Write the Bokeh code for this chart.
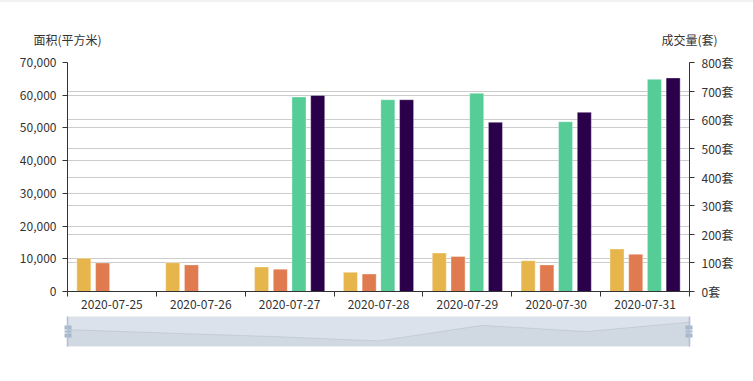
import numpy as np
from bokeh.plotting import figure
from bokeh.models import (Range1d, LinearAxis, FixedTicker, NumeralTickFormatter,
                          PrintfTickFormatter, Grid, BoxAnnotation, ColumnDataSource)
from bokeh.transform import dodge
from bokeh.layouts import column
from bokeh.embed import file_html
from bokeh.resources import INLINE

# ---------------- data ----------------
dates = ["2020-07-25", "2020-07-26", "2020-07-27", "2020-07-28",
         "2020-07-29", "2020-07-30", "2020-07-31"]
esf_area = [10150, 8800, 7490, 5870, 11770, 9410, 12990]      # 面积, left axis (yellow)
esf_count = [100, 93, 78, 61, 122, 93, 130]                   # 成交量, right axis (orange)
xf_area = [None, None, 59450, 58630, 60580, 51900, 64860]     # 面积, left axis (green)
xf_count = [None, None, 685, 670, 591, 626, 746]              # 成交量, right axis (purple)

left_ticks = [0, 10000, 20000, 30000, 40000, 50000, 60000, 70000]
right_ticks = [0, 100, 200, 300, 400, 500, 600, 700, 800]
left_name = "面积(平方米)"
right_name = "成交量(套)"

colors = ["#e6b64c", "#e07b4f", "#56cd97", "#2a004a"]
FONT = "Noto Sans CJK SC"
TXT = "#333333"

W = 753
FL, FR = 67, 64            # frame margins (left/right), shared by both rows
n = len(dates)
centers = [i + 0.5 for i in range(n)]
src = ColumnDataSource(dict(
    xc=centers,
    esf_area=np.array(esf_area, dtype=float),
    esf_count=np.array(esf_count, dtype=float),
    xf_area=np.array(xf_area, dtype=float),
    xf_count=np.array(xf_count, dtype=float),
))

# ---------------- main chart ----------------
p = figure(width=W, height=314, x_range=Range1d(0, n),
           y_range=Range1d(left_ticks[0], left_ticks[-1]),
           output_backend="svg", toolbar_location=None,
           x_axis_type=None, y_axis_type=None,
           min_border_left=FL, min_border_right=FR,
           min_border_top=60, min_border_bottom=25)
p.extra_y_ranges = {"right": Range1d(right_ticks[0], right_ticks[-1])}
p.outline_line_color = None
p.background_fill_color = "white"
p.border_fill_color = "white"

p.add_layout(Grid(dimension=1, ticker=FixedTicker(ticks=left_ticks),
                  grid_line_color="#cccccc", grid_line_width=1))
p.add_layout(Grid(dimension=1, ticker=FixedTicker(ticks=right_ticks),
                  y_range_name="right", grid_line_color="#cccccc", grid_line_width=1))

# axis names, shown as labels of an invisible top axis at both ends of the frame
names = LinearAxis(ticker=FixedTicker(ticks=[0, n]),
                   major_label_overrides={0: left_name, n: right_name})
names.axis_line_color = None
names.major_tick_line_color = None
names.minor_tick_line_color = None
names.major_tick_out = 0
names.major_tick_in = 0
names.major_label_standoff = 15
names.major_label_text_font = FONT
names.major_label_text_font_size = "12px"
names.major_label_text_color = TXT
p.add_layout(names, "above")

xaxis = LinearAxis(ticker=FixedTicker(ticks=centers, minor_ticks=list(range(n + 1))),
                   major_label_overrides={c: d for c, d in zip(centers, dates)})
xaxis.major_tick_out = 0
xaxis.major_tick_in = 0
xaxis.minor_tick_out = 5
xaxis.minor_tick_in = 0
xaxis.minor_tick_line_color = TXT
xaxis.axis_line_color = TXT
xaxis.major_label_standoff = 3
xaxis.major_label_text_font = FONT
xaxis.major_label_text_font_size = "12px"
xaxis.major_label_text_color = TXT
p.add_layout(xaxis, "below")

laxis = LinearAxis(ticker=FixedTicker(ticks=left_ticks),
                   formatter=NumeralTickFormatter(format="0,0"))
raxis = LinearAxis(y_range_name="right", ticker=FixedTicker(ticks=right_ticks),
                   formatter=PrintfTickFormatter(format="%d套"))
for ax, so in ((laxis, 6), (raxis, 7)):
    ax.major_tick_out = 5
    ax.major_tick_in = 0
    ax.minor_tick_out = 0
    ax.minor_tick_in = 0
    ax.major_tick_line_color = TXT
    ax.axis_line_color = TXT
    ax.major_label_standoff = so
    ax.major_label_text_font = FONT
    ax.major_label_text_font_size = "12px"
    ax.major_label_text_color = TXT
p.add_layout(laxis, "left")
p.add_layout(raxis, "right")

offsets = [-0.316, -0.105, 0.105, 0.316]
bw = 0.158
series = [("esf_area", "default"), ("esf_count", "right"),
          ("xf_area", "default"), ("xf_count", "right")]
for (col, rng), off, c in zip(series, offsets, colors):
    p.vbar(x=dodge("xc", off), top=col, bottom=0, width=bw, source=src,
           fill_color=c, line_color="white", line_alpha=0.35, line_width=1,
           y_range_name=rng)

# ---------------- dataZoom slider ----------------
vals = np.array(esf_area, dtype=float)
span = vals.max() - vals.min()
lo, hi = vals.min() - 0.3 * span, vals.max() + 0.3 * span
NH = 30                         # slider height in px
vpx = (hi - lo) / NH            # data units per px (y)
mid = (lo + hi) / 2
idx = list(range(n))
NAVH = 64

nav = figure(width=W, height=NAVH, x_range=Range1d(0, n - 1),
             y_range=Range1d(lo, hi), output_backend="svg", toolbar_location=None,
             x_axis_type=None, y_axis_type=None,
             min_border_left=FL, min_border_right=FR,
             min_border_top=0, min_border_bottom=NAVH - NH)
nav.outline_line_color = None
nav.border_fill_color = "white"
nav.background_fill_color = "white"

nav.varea(x=idx, y1=[lo] * n, y2=esf_area, fill_color="#2f4554", fill_alpha=0.09)
nav.line(x=idx, y=esf_area, line_color="#2f4554", line_alpha=0.3, line_width=0.5)
nav.add_layout(BoxAnnotation(fill_color="#a7b7cc", fill_alpha=0.4,
                             line_color="#dddddd", line_alpha=0.6, line_width=1))

# the two handles: drawn as label-less axes sitting on the slider's edges;
# the handle block is built from short thick tick marks with two thin gaps
handle_marks = [mid + k * vpx for k in (-5, -3, 0, 3, 5)]
for side in ("left", "right"):
    h = LinearAxis(ticker=FixedTicker(ticks=[], minor_ticks=handle_marks))
    h.axis_line_color = "#a7b7cc"
    h.axis_line_width = 1.5
    h.major_tick_line_color = None
    h.minor_tick_line_color = "#a7b7cc"
    h.minor_tick_line_width = 2
    h.minor_tick_in = 4
    h.minor_tick_out = 3
    h.major_label_standoff = 0
    nav.add_layout(h, side)

layout = column(p, nav, spacing=0,
                styles={"border-top": "2px solid #f2f2f2"})
open("out.html", "w").write(file_html(layout, INLINE))
